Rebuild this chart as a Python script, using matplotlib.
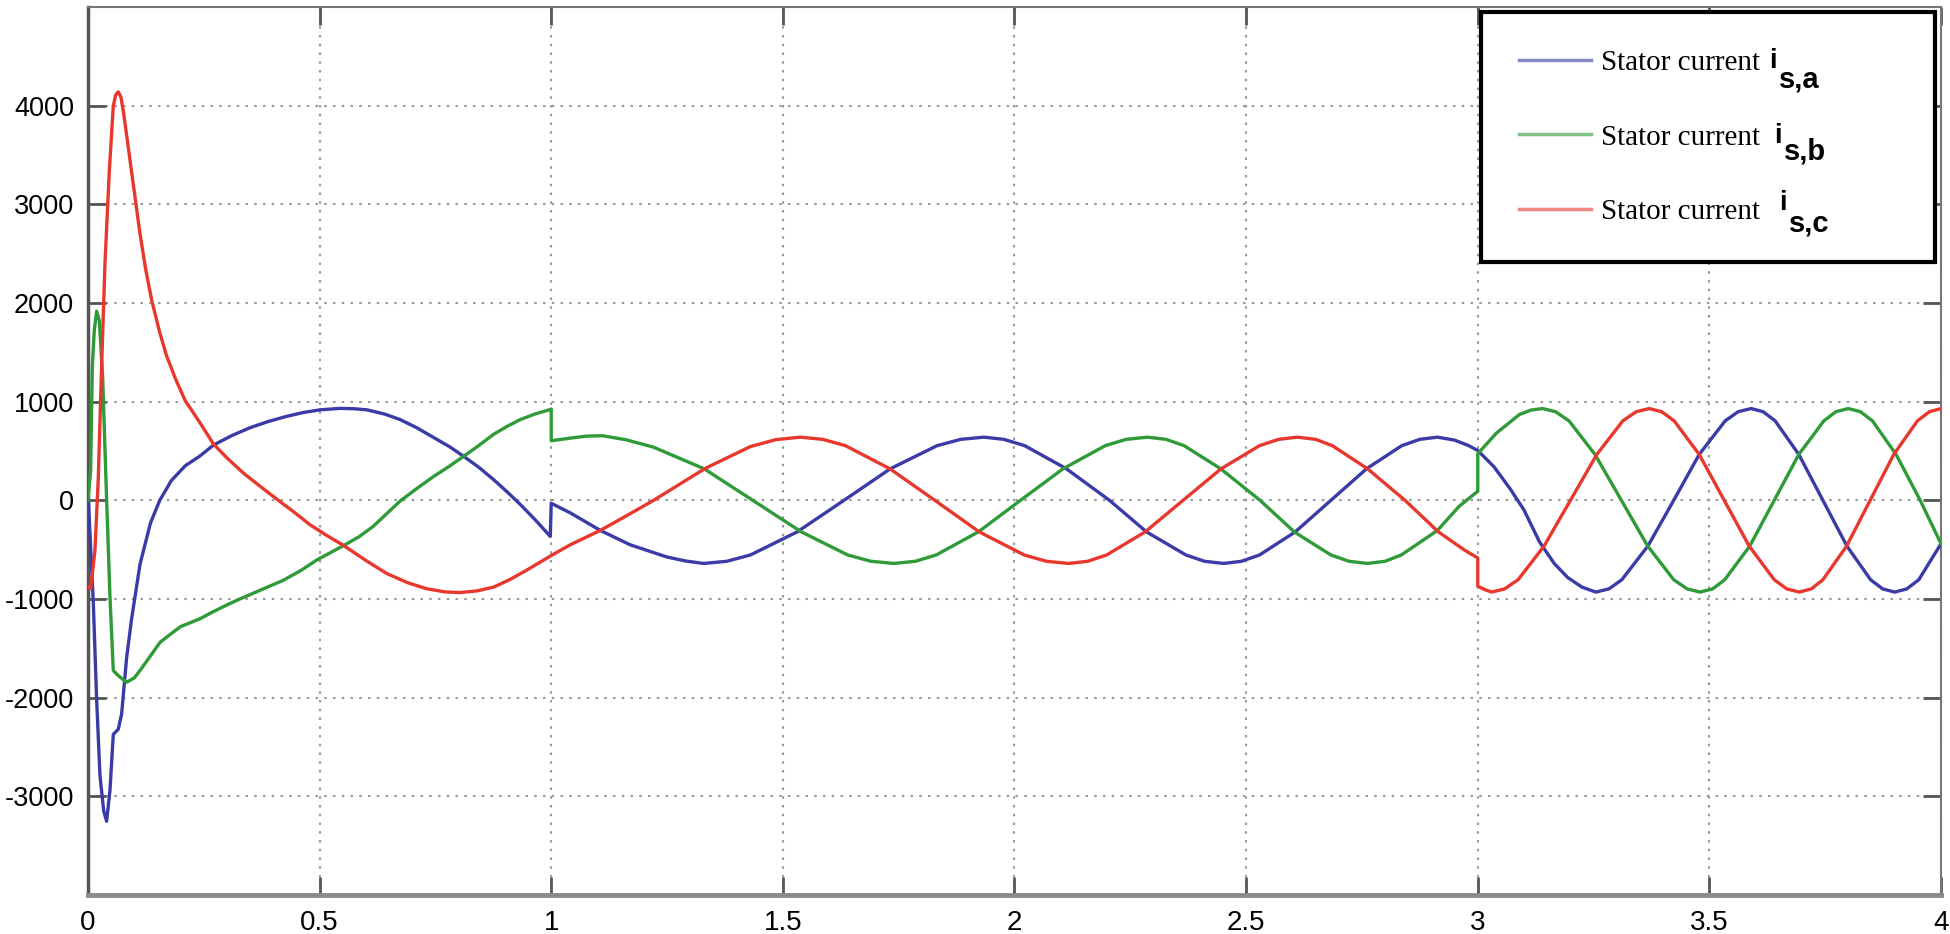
import matplotlib
matplotlib.use("Agg")
import matplotlib.pyplot as plt

# --- data (time in s, current in A) ---
# phase a (blue)
t_a = [0.000, 0.006, 0.0115, 0.0187, 0.0259, 0.034, 0.0403, 0.0475, 0.0547, 0.0655,
       0.0727, 0.0835, 0.0943, 0.1123, 0.135, 0.155, 0.180, 0.210, 0.242, 0.271,
       0.310, 0.350, 0.390, 0.429, 0.465, 0.501, 0.544, 0.575, 0.602, 0.640,
       0.674, 0.710, 0.746, 0.780, 0.811, 0.845, 0.876, 0.905, 0.933, 0.965,
       0.998, 1.000, 1.041, 1.106, 1.170, 1.250, 1.290, 1.329,
       1.379, 1.430, 1.531, 1.632, 1.732, 1.833, 1.884, 1.934,
       1.977, 2.022, 2.112, 2.205, 2.285, 2.370, 2.410, 2.452,
       2.490, 2.529, 2.606, 2.683, 2.760, 2.836, 2.875, 2.913,
       2.950, 2.980, 3.000, 3.035, 3.071, 3.100, 3.133, 3.165, 3.194, 3.225, 3.255,
       3.283, 3.311, 3.367, 3.423, 3.478, 3.534, 3.562, 3.590,
       3.616, 3.642, 3.693, 3.745, 3.797, 3.848, 3.874, 3.900,
       3.926, 3.952, 4.000]
i_a = [100, -500, -1025, -2010, -2787, -3150, -3253, -2942, -2372, -2320,
       -2165, -1595, -1200, -650, -230, 0, 200, 350, 450, 560,
       655, 736, 800, 851, 890, 917, 932, 928, 917, 875,
       818, 735, 637, 545, 446, 330, 208, 85, -41, -195,
       -366, -30, -127, -305, -450, -575, -615, -640,
       -618, -554, -320, 0, 320, 554, 618, 640,
       618, 554, 320, 0, -320, -554, -618, -640,
       -618, -554, -320, 0, 320, 554, 618, 640,
       610, 555, 505, 340, 109, -100, -419, -640, -782, -880, -930,
       -898, -805, -465, 0, 465, 805, 898, 930,
       898, 805, 465, 0, -465, -805, -898, -930,
       -898, -805, -440]

# phase b (green)
t_b = [0.000, 0.0058, 0.0094, 0.0137, 0.0187, 0.0245, 0.0317, 0.0403, 0.0475, 0.0547,
       0.0655, 0.0835, 0.100, 0.1123, 0.130, 0.1555, 0.180, 0.200, 0.242, 0.270,
       0.300, 0.328, 0.375, 0.422, 0.460, 0.494, 0.552, 0.585, 0.616, 0.645,
       0.674, 0.710, 0.746, 0.780, 0.811, 0.845, 0.876, 0.905, 0.933, 0.965,
       0.994, 1.000, 1.000, 1.041, 1.075, 1.110, 1.160, 1.220, 1.330, 1.435,
       1.540, 1.640, 1.690, 1.740,
       1.786, 1.831, 1.922, 2.013, 2.105, 2.196, 2.241, 2.287,
       2.327, 2.366, 2.445, 2.530, 2.604, 2.683, 2.722, 2.762,
       2.800, 2.835, 2.913, 2.960, 3.000, 3.000, 3.040, 3.090, 3.115, 3.140,
       3.168, 3.197, 3.253, 3.310, 3.367, 3.423, 3.452, 3.480,
       3.507, 3.533, 3.587, 3.640, 3.693, 3.747, 3.773, 3.800,
       3.826, 3.852, 3.903, 3.955, 4.000]
i_b = [0, 300, 1357, 1720, 1917, 1823, 1254, 10, -974, -1725,
       -1777, -1844, -1800, -1725, -1610, -1440, -1350, -1280, -1200, -1130,
       -1060, -1000, -905, -810, -710, -605, -458, -370, -263, -135,
       -7, 120, 241, 345, 446, 560, 670, 750, 818, 875,
       915, 925, 604, 630, 650, 655, 615, 540, 320, 0,
       -320, -554, -618, -640,
       -618, -554, -320, 0, 320, 554, 618, 640,
       618, 554, 320, 0, -320, -554, -618, -640,
       -618, -554, -305, -60, 92, 472, 680, 870, 915, 930,
       898, 805, 465, 0, -465, -805, -898, -930,
       -898, -805, -465, 0, 465, 805, 898, 930,
       898, 805, 465, 0, -440]

# phase c (red)
t_c = [0.000, 0.0058, 0.0151, 0.0223, 0.0295, 0.0367, 0.046, 0.0547, 0.060, 0.0655,
       0.071, 0.0763, 0.085, 0.0943, 0.1123, 0.125, 0.1375, 0.155, 0.170, 0.190,
       0.210, 0.242, 0.271, 0.300, 0.336, 0.375, 0.411, 0.445, 0.480, 0.515,
       0.552, 0.600, 0.645, 0.690, 0.731, 0.770, 0.803, 0.840, 0.876, 0.910,
       0.947, 0.975, 1.000, 1.041, 1.106, 1.165, 1.221, 1.333, 1.430, 1.485, 1.538,
       1.586, 1.635, 1.731, 1.828, 1.924, 2.021, 2.069, 2.117,
       2.158, 2.199, 2.282, 2.364, 2.446, 2.529, 2.570, 2.611,
       2.650, 2.686, 2.762, 2.843, 2.915, 2.970, 3.000, 3.000, 3.015, 3.030,
       3.058, 3.087, 3.143, 3.200, 3.257, 3.313, 3.342, 3.370,
       3.397, 3.424, 3.478, 3.532, 3.586, 3.640, 3.667, 3.694,
       3.720, 3.745, 3.796, 3.847, 3.898, 3.949, 3.975, 4.000]
i_c = [-880, -896, -508, 218, 1357, 2393, 3326, 4000, 4110, 4140,
       4090, 3947, 3650, 3326, 2704, 2330, 2031, 1700, 1461, 1220,
       1010, 785, 570, 430, 274, 130, 0, -120, -250, -355,
       -458, -610, -742, -835, -896, -928, -935, -918, -879, -805,
       -708, -630, -560, -451, -305, -150, 0, 325, 545, 615, 640,
       618, 554, 320, 0, -320, -554, -618, -640,
       -618, -554, -320, 0, 320, 554, 618, 640,
       618, 554, 320, 0, -320, -500, -585, -870, -905, -930,
       -898, -805, -465, 0, 465, 805, 898, 930,
       898, 805, 465, 0, -465, -805, -898, -930,
       -898, -805, -465, 0, 465, 805, 898, 930]

labels = ['Stator current', 'Stator current', 'Stator current']
subs = ['s,a', 's,b', 's,c']
colors = ['#3b3ba8', '#2f9a38', '#e8382e']

x_ticks = [0, 0.5, 1, 1.5, 2, 2.5, 3, 3.5, 4]
x_ticklabels = ['0', '0.5', '1', '1.5', '2', '2.5', '3', '3.5', '4']
y_ticks = [-3000, -2000, -1000, 0, 1000, 2000, 3000, 4000]

# --- figure ---
fig = plt.figure(figsize=(19.5, 9.34), dpi=100)
ax = fig.add_axes([0.0451, 0.0418, 0.9503, 0.9507])

for t, i, c, lab in zip([t_a, t_b, t_c], [i_a, i_b, i_c], colors, labels):
    ax.plot(t, i, color=c, linewidth=2.4, label=lab, zorder=3)

ax.set_xlim(0, 4)
ax.set_ylim(-4000, 5000)
ax.set_xticks(x_ticks)
ax.set_xticklabels(x_ticklabels, family=['Liberation Sans Narrow', 'Liberation Sans'], fontsize=20)
ax.set_yticks(y_ticks)
ax.set_yticklabels([str(v) for v in y_ticks], family='Liberation Sans', fontsize=19.5)

ax.grid(True, color='#9a9a9a', linestyle=(0, (1.2, 3.0)), linewidth=1.5)
ax.tick_params(direction='in', length=13, width=2, color='#555555',
               top=True, right=True)
ax.tick_params(axis='y', pad=10)
ax.tick_params(axis='x', pad=11)

ax.spines['left'].set_color('#555555')
ax.spines['left'].set_linewidth(2.5)
ax.spines['bottom'].set_color('#8a8a8a')
ax.spines['bottom'].set_linewidth(3.5)
for s in ['top', 'right']:
    ax.spines[s].set_color('#777777')
    ax.spines[s].set_linewidth(1.5)

# --- legend ---
leg = ax.legend(loc='upper left', bbox_to_anchor=(0.752, 0.7227, 0.2448, 0.2713),
                mode='expand', borderaxespad=0, borderpad=1.28, labelspacing=1.65,
                handlelength=2.47, handletextpad=0.35, fancybox=False,
                framealpha=1, edgecolor='black',
                prop={'family': 'Liberation Serif', 'size': 21})
leg.get_frame().set_linewidth(3)
for h in leg.get_lines():
    h.set_linewidth(2.5)
    h.set_alpha(0.6)

# the i_{s,x} symbols next to each legend entry (pixel positions from the picture)
i_pos = [(1773, 68), (1778, 143), (1783, 210)]
sub_pos = [(1779, 87), (1784, 160), (1789, 231)]
for (xi, yi), (xs, ys), sb in zip(i_pos, sub_pos, subs):
    fig.text(xi / 1950, 1 - yi / 934, 'i', ha='center', va='baseline',
             family='Liberation Sans', fontsize=20, fontweight='bold')
    fig.text(xs / 1950, 1 - ys / 934, sb, ha='left', va='baseline',
             family='Liberation Sans', fontsize=21, fontweight='bold')

fig.savefig('out.png', dpi=100)
